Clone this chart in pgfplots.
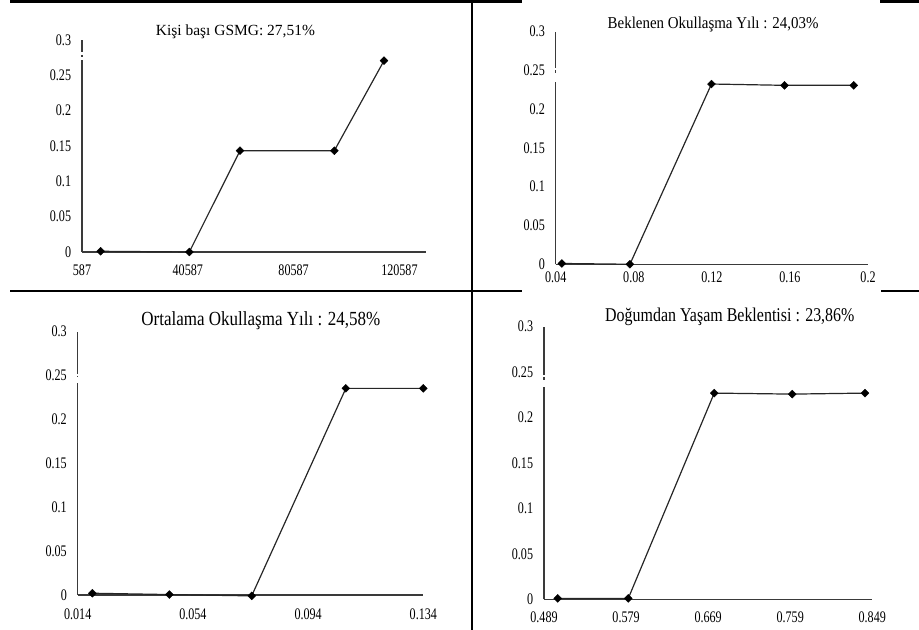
\documentclass[border=0pt]{standalone}
\usepackage{fontspec}
\usepackage{pgfplots}
\pgfplotsset{compat=1.18}
\setmainfont{Liberation Serif}
\newfontfamily\tickfont[FakeStretch=0.75]{Liberation Serif}
\newfontfamily\titleA{Liberation Serif}
\newfontfamily\titleB[FakeStretch=0.9]{Liberation Serif}
\newfontfamily\titleC[FakeStretch=0.85]{Liberation Serif}
\newfontfamily\titleD[FakeStretch=0.82]{Liberation Serif}
\definecolor{axcol}{HTML}{3A3A3A}
\pgfplotsset{
  panel/.style={
    scale only axis,
    anchor=south west,
    axis x line=bottom, axis y line=left,
    axis line style={-, draw=axcol, line width=0.8pt},
    major tick length=0pt,
    scaled ticks=false,
    ymin=0, ymax=0.3,
    ytick={0,0.05,0.1,0.15,0.2,0.25,0.3},
    yticklabels={0,0.05,0.1,0.15,0.2,0.25,0.3},
    yticklabel style={font=\fontsize{12.1}{14}\tickfont, anchor=east, inner sep=0pt, xshift=-8pt},
    xticklabel style={font=\fontsize{12.1}{14}\tickfont, anchor=north, inner sep=0pt},
    clip=false,
    every axis title shift=0pt,
    title style={anchor=base, inner sep=0pt, yshift=0pt},
  },
  ser/.style={draw=black!85, line width=0.9pt, mark=square*, mark size=2.1pt,
    mark options={rotate=45, fill=black, draw=black, line width=0.3pt}},
}
\begin{document}
\begin{tikzpicture}
\useasboundingbox (0,0) rectangle (689.25pt,472.5pt);
% table borders
\draw[black, line width=1.9pt] (354pt,0) -- (354pt,472.5pt);
\draw[black, line width=2.25pt] (7.5pt,471.4pt) -- (391.5pt,471.4pt);
\draw[black, line width=2.25pt] (660pt,471.4pt) -- (689.25pt,471.4pt);
\draw[black, line width=1.5pt] (7.5pt,254.25pt) -- (391.5pt,254.25pt);
\draw[black, line width=1.5pt] (660.75pt,254.25pt) -- (689.25pt,254.25pt);

% Panel 1
\begin{axis}[panel, at={(61.5pt,283.5pt)}, width=258pt, height=159pt,
  xmin=587, xmax=130644,
  xtick={587,40587,80587,120587}, xticklabels={587,40587,80587,120587},
  xticklabel style={yshift=-9.75pt},
  title={\fontsize{11.6}{14}\titleA Kişi başı GSMG: 27,51\%},
  title style={at={(rel axis cs:0.446,1.020)}},
]
\draw[white, line width=3pt] (axis cs:587,0.2830) -- (axis cs:587,0.2717);
\draw[axcol, line width=0.8pt] (axis cs:587,0.2790) -- (axis cs:587,0.2760);
\addplot[ser] coordinates {(7657,0.001) (41154,0) (60322,0.1433) (95974,0.1433) (114765,0.2707)};
\end{axis}

% Panel 2
\begin{axis}[panel, at={(416.8pt,274.3pt)}, width=234.2pt, height=174.5pt,
  xmin=0.04, xmax=0.2,
  xtick={0.04,0.08,0.12,0.16,0.2}, xticklabels={0.04,0.08,0.12,0.16,0.2},
  xticklabel style={yshift=-5.5pt},
  title={\fontsize{12.45}{14}\titleB Beklenen Okullaşma Yılı : 24,03\%},
  title style={at={(rel axis cs:0.504,1.0146)}},
]
\draw[white, line width=3pt] (axis cs:0.04,0.2526) -- (axis cs:0.04,0.2353);
\draw[axcol, line width=0.8pt] (axis cs:0.04,0.2504) -- (axis cs:0.04,0.2472);
\addplot[ser] coordinates {(0.0431,0.001) (0.078,0) (0.1198,0.2324) (0.1572,0.2307) (0.1927,0.2307)};
\end{axis}

% Panel 3
\begin{axis}[panel, at={(58.3pt,26.25pt)}, width=259.2pt, height=197.5pt,
  xmin=0.014, xmax=0.134,
  xtick={0.014,0.054,0.094,0.134}, xticklabels={0.014,0.054,0.094,0.134},
  xticklabel style={yshift=-10pt},
  title={\fontsize{15}{17}\titleC Ortalama Okullaşma Yılı : 24,58\%},
  title style={at={(rel axis cs:0.530,1.0217)}},
]
\draw[white, line width=3pt] (axis cs:0.014,0.2517) -- (axis cs:0.014,0.2411);
\draw[axcol, line width=0.8pt] (axis cs:0.014,0.2497) -- (axis cs:0.014,0.2479);
\addplot[ser] coordinates {(0.0191,0.002) (0.0458,0.0005) (0.0744,-0.001) (0.1071,0.2354) (0.134,0.2354)};
\end{axis}

% Panel 4
\begin{axis}[panel, at={(408pt,23pt)}, width=246.2pt, height=204.5pt,
  xmin=0.489, xmax=0.849,
  xtick={0.489,0.579,0.669,0.759,0.849}, xticklabels={0.489,0.579,0.669,0.759,0.849},
  xticklabel style={yshift=-9.3pt},
  title={\fontsize{14.6}{17}\titleD Doğumdan Yaşam Beklentisi : 23,86\%},
  title style={at={(rel axis cs:0.566,1.018)}},
]
\draw[white, line width=3pt] (axis cs:0.489,0.2470) -- (axis cs:0.489,0.2341);
\draw[axcol, line width=0.8pt] (axis cs:0.489,0.2441) -- (axis cs:0.489,0.2415);
\addplot[ser] coordinates {(0.504,0.001) (0.5814,0.001) (0.6757,0.2269) (0.7613,0.2258) (0.841,0.2269)};
\end{axis}
\end{tikzpicture}
\end{document}
